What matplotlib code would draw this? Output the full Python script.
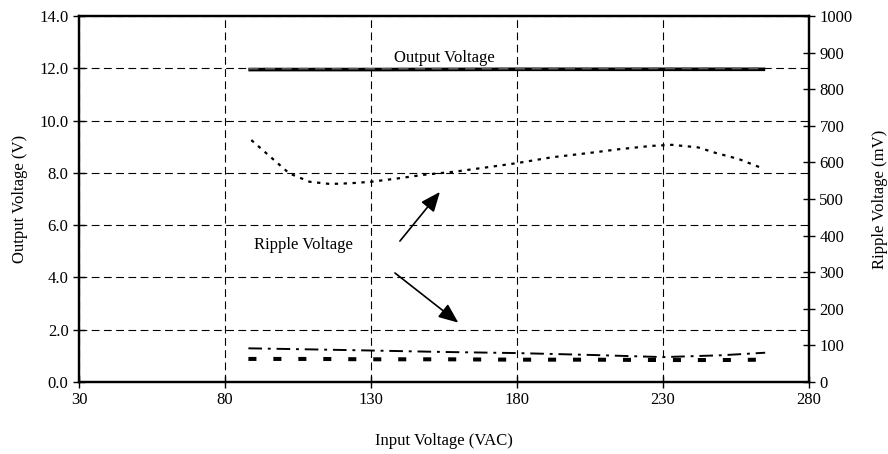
import matplotlib
matplotlib.use('agg')
import matplotlib.pyplot as plt
import numpy as np

plt.rcParams['font.family'] = ['Liberation Serif', 'DejaVu Serif']
plt.rcParams['font.size'] = 12

# output voltage (V) vs input voltage (VAC)
vin_out = [88, 130, 180, 230, 265]
vout_a = [11.95, 11.95, 11.96, 11.96, 11.96]
vout_b = [11.98, 11.98, 11.98, 11.99, 11.99]

# ripple voltage (mV), three curves
vin_rip = [89, 98, 102, 109, 116, 123, 130, 139, 148, 159, 172, 180,
           192, 204, 215, 226, 233, 242, 248, 256, 264]
rip_dot = [661, 598, 570, 547, 541, 543, 547, 556, 566, 575, 589, 598,
           614, 625, 636, 645, 648, 641, 626, 609, 584]
vin_low = [88, 110, 130, 155, 180, 205, 230, 250, 265]
rip_dashdot = [92, 89, 86, 82, 79, 74, 68, 73, 80]
rip_dash = [63, 63, 62, 62, 61, 61, 60, 60, 61]

xticks = [30, 80, 130, 180, 230, 280]
yticks_left = np.arange(0, 14.1, 2)
yticks_right = np.arange(0, 1001, 100)

fig = plt.figure(figsize=(8.88, 4.54), dpi=100)
ax = fig.add_axes([0.089, 0.1586, 0.822, 0.8062])
ax2 = ax.twinx()

ax.set_xlim(30, 280)
ax.set_ylim(0, 14)
ax2.set_ylim(0, 1000)
ax.set_xticks(xticks)
ax.set_yticks(yticks_left)
ax.set_yticklabels(['%.1f' % v for v in yticks_left])
ax2.set_yticks(yticks_right)

ax.grid(True, color='black', linestyle=(0, (7, 4)), linewidth=0.8)
ax.set_axisbelow(True)

for a in (ax, ax2):
    for sp in a.spines.values():
        sp.set_linewidth(1.6)
    a.tick_params(direction='inout', length=8, width=1.0, labelsize=12)

ax.plot(vin_out, vout_a, color='black', linewidth=2.6, solid_capstyle='butt')
ax.plot(vin_out, vout_b, color='0.35', linewidth=1.2, linestyle=(0, (6, 4)))

ax2.plot(vin_rip, rip_dot, color='black', linewidth=1.6, linestyle=(0, (1.5, 2.5)))
ax2.plot(vin_low, rip_dashdot, color='black', linewidth=1.4,
         linestyle=(0, (7, 3, 1.5, 3)))
ax2.plot(vin_low, rip_dash, color='black', linewidth=2.9, linestyle=(0, (2, 4.2)))

ax.text(155, 12.4, 'Output Voltage', ha='center', va='center', fontsize=12)
ax.text(107, 5.24, 'Ripple Voltage', ha='center', va='center', fontsize=12)
arrow = dict(arrowstyle='-|>,head_length=0.6,head_width=0.25', color='black',
             lw=1.2, mutation_scale=20, shrinkA=0, shrinkB=0)
ax.annotate('', xy=(153.6, 7.27), xytext=(139.9, 5.39), arrowprops=arrow)
ax.annotate('', xy=(159.9, 2.27), xytext=(138.2, 4.17), arrowprops=arrow)

ax.set_xlabel('Input Voltage (VAC)', fontsize=12, labelpad=18)
ax.set_ylabel('Output Voltage (V)', fontsize=12, labelpad=8)
ax2.set_ylabel('Ripple Voltage (mV)', fontsize=12, labelpad=14)

fig.savefig('out.png', dpi=100)
